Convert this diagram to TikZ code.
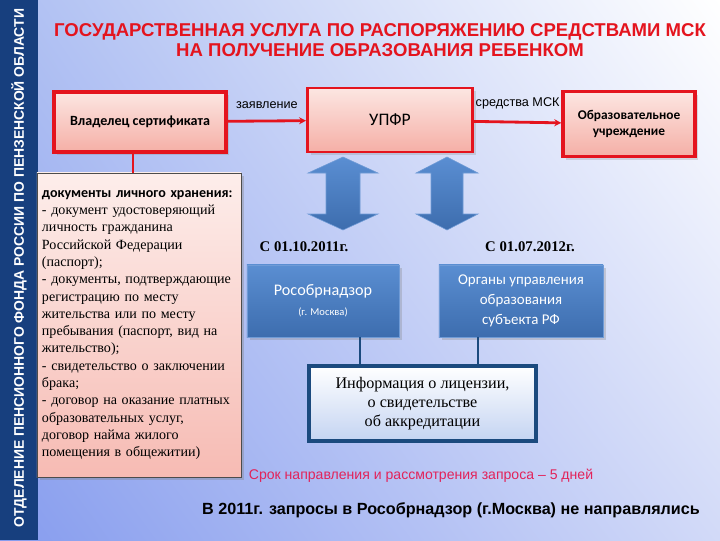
\documentclass[tikz,border=0pt]{standalone}
\usepackage{fontspec}
\setmainfont{Liberation Serif}
\setsansfont{Liberation Sans}
\newfontfamily\calibri{Carlito}
\usetikzlibrary{shadows,shadings,arrows.meta}
\definecolor{pfrnavy}{HTML}{173F7E}
\definecolor{boxred}{HTML}{E4141E}
\definecolor{pinktop}{HTML}{FCE6E2}
\definecolor{pinkbot}{HTML}{F5AFA6}
\definecolor{bluetop}{HTML}{5A8ED2}
\definecolor{bluebot}{HTML}{3D6DAE}
\definecolor{blueedge}{HTML}{6F9BD6}
\definecolor{infoedge}{HTML}{1B4A7E}
\definecolor{infobot}{HTML}{C4D4F2}
\definecolor{termred}{HTML}{E2235A}
\definecolor{bgul}{HTML}{AEBFF2}
\definecolor{bgll}{HTML}{869CEE}
\definecolor{bglr}{HTML}{D2DAF8}
\begin{document}
\begin{tikzpicture}
  [x=0.025cm,y=-0.025cm,
   redbox/.style={draw=boxred,line width=2.4pt,top color=pinktop,bottom color=pinkbot,
     align=center,inner sep=2pt,drop shadow={opacity=0.25}},
   bluebox/.style={draw=blueedge,line width=0.6pt,top color=bluetop,bottom color=bluebot,
     text=white,align=center,inner sep=2pt,drop shadow={opacity=0.3}},
   label/.style={font=\sffamily\fontsize{9}{11}\selectfont,inner sep=1pt},
   datelabel/.style={font=\bfseries\fontsize{10.5}{12}\selectfont,inner sep=1pt},
   redarrow/.style={draw=boxred,line width=2pt,-{Stealth[length=5pt,width=5pt]}},
   blockarrow/.style={top color=bluetop,bottom color=bluebot,draw=blueedge,line width=0.4pt}]
  \useasboundingbox (0,0) rectangle (720,540);
  \shade[upper left=bgul,upper right=white,lower left=bgll,lower right=bglr]
    (0,0) rectangle (720,540);
  \fill[pfrnavy] (0,0) rectangle (38,540);
  \node (side) at (19,268) [rotate=90,text=white,font=\sffamily\bfseries\fontsize{9.9}{11}\selectfont]
    {ОТДЕЛЕНИЕ ПЕНСИОННОГО ФОНДА РОССИИ ПО ПЕНЗЕНСКОЙ ОБЛАСТИ};
  \node (title) at (380,40) [align=center,text=boxred,font=\sffamily\bfseries\fontsize{13.2}{14.2}\selectfont]
    {ГОСУДАРСТВЕННАЯ УСЛУГА ПО РАСПОРЯЖЕНИЮ СРЕДСТВАМИ МСК\\НА ПОЛУЧЕНИЕ ОБРАЗОВАНИЯ РЕБЕНКОМ};

  \node (owner) at (140,122) [redbox,minimum width=4.3cm,minimum height=1.5cm,
    font=\calibri\bfseries\fontsize{10}{12}\selectfont] {Владелец сертификата};
  \node (upfr) at (390,120) [redbox,line width=2pt,minimum width=4.125cm,minimum height=1.6cm,
    font=\calibri\fontsize{12.5}{14}\selectfont] {УПФР};
  \node (school) at (629,124) [redbox,minimum width=3.3cm,minimum height=1.625cm,
    font=\calibri\bfseries\fontsize{9.5}{12}\selectfont] {Образовательное\\учреждение};
  \node (docs) at (139,325) [draw=black!70,line width=0.5pt,top color=pinktop!70!white,bottom color=pinkbot!85!white,
    minimum width=5.1cm,minimum height=7.6cm,text width=4.85cm,align=left,
    drop shadow={opacity=0.35},font=\fontsize{10}{12.3}\selectfont]
    {{\calibri\bfseries документы личного хранения:}\\
     - документ удостоверяющий\\личность гражданина\\Российской Федерации\\(паспорт);\\
     - документы, подтверждающие\\регистрацию по месту\\жительства или по месту\\пребывания (паспорт, вид на\\жительство);\\
     - свидетельство о заключении\\брака;\\
     - договор на оказание платных\\образовательных услуг,\\договор найма жилого\\помещения в общежитии)};

  \draw[redarrow] (owner) -- node[label,above=7pt] {заявление} (upfr);
  \draw[redarrow] (upfr) -- node[label,above=7pt] {средства МСК} (school);
  \draw[boxred,line width=2pt] ([xshift=-0.175cm]owner.south) -- ([xshift=-0.175cm]owner.south |- docs.north);

  \foreach \cx/\hw/\sw in {343/35/17,447/31/16}
    \draw[blockarrow] (\cx,157) -- (\cx+\hw,173) -- (\cx+\sw,173) -- (\cx+\sw,214) -- (\cx+\hw,214)
      -- (\cx,230) -- (\cx-\hw,214) -- (\cx-\sw,214) -- (\cx-\sw,173) -- (\cx-\hw,173) -- cycle;

  \node (date1) at (304,247) [datelabel] {С 01.10.2011г.};
  \node (date2) at (530,247) [datelabel] {С 01.07.2012г.};
  \node (rosobr) at (323,301) [bluebox,minimum width=3.8cm,minimum height=1.8cm,
    font=\calibri\fontsize{11.5}{14}\selectfont] {Рособрнадзор\\{\fontsize{7.5}{9}\selectfont(г. Москва)}};
  \node (organs) at (521,301) [bluebox,minimum width=4.1cm,minimum height=1.8cm,
    font=\calibri\fontsize{10.6}{14}\selectfont] {Органы управления\\образования\\субъекта РФ};
  \node (info) at (422.5,403.5) [draw=infoedge,line width=2.6pt,top color=white,bottom color=infobot,
    minimum width=5.675cm,minimum height=1.875cm,align=center,font=\fontsize{11.5}{13.5}\selectfont]
    {Информация о лицензии,\\о свидетельстве\\об аккредитации};
  \draw[infoedge,line width=2pt] ([xshift=0.925cm]rosobr.south) -- ([xshift=0.925cm]rosobr.south |- info.north);
  \draw[infoedge,line width=2pt] ([xshift=-1.075cm]organs.south) -- ([xshift=-1.075cm]organs.south |- info.north);

  \node (term) at (421,476) [text=termred,font=\sffamily\fontsize{10}{11}\selectfont]
    {Срок направления и рассмотрения запроса – 5 дней};
  \node (note) at (451,510) [font=\sffamily\bfseries\fontsize{11.5}{13}\selectfont]
    {В 2011г. запросы в Рособрнадзор (г.Москва) не направлялись};
\end{tikzpicture}
\end{document}
